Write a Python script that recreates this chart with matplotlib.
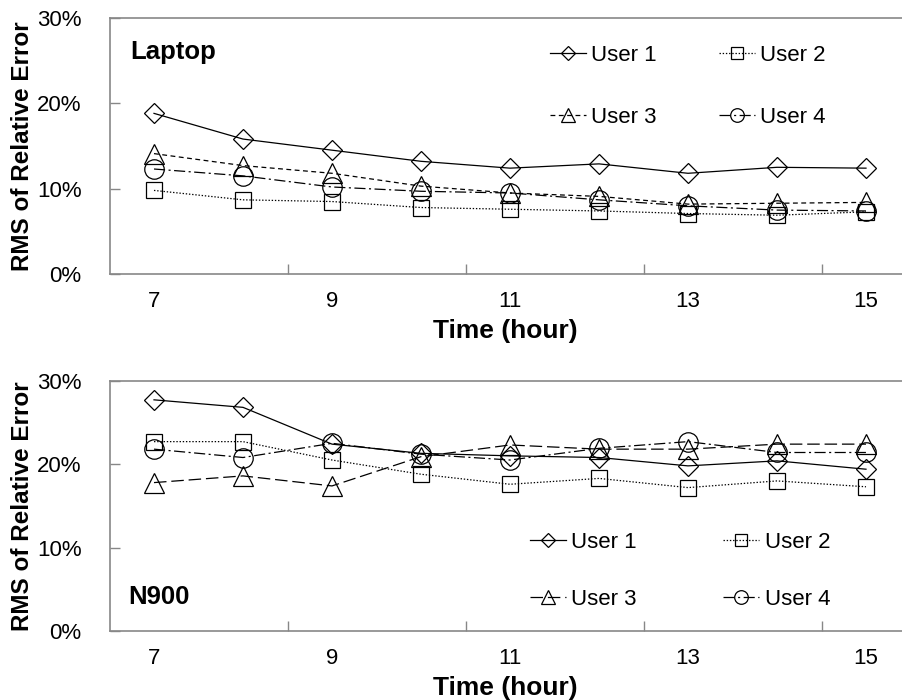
import matplotlib
matplotlib.use("Agg")
import matplotlib.pyplot as plt
from matplotlib.ticker import FixedLocator, FuncFormatter

plt.rcParams['font.family'] = ['Liberation Sans', 'DejaVu Sans']
plt.rcParams['lines.scale_dashes'] = False

hours = [7, 8, 9, 10, 11, 12, 13, 14, 15]
tick_labels = ["7", "9", "11", "13", "15"]
users = ["User 1", "User 2", "User 3", "User 4"]

# Laptop (values in %)
laptop_u1 = [18.8, 15.8, 14.5, 13.2, 12.4, 12.9, 11.8, 12.5, 12.4]
laptop_u2 = [9.8, 8.7, 8.5, 7.8, 7.6, 7.4, 7.1, 6.9, 7.3]
laptop_u3 = [14.1, 12.7, 11.8, 10.3, 9.5, 9.1, 8.2, 8.3, 8.4]
laptop_u4 = [12.3, 11.5, 10.2, 9.7, 9.5, 8.7, 8.0, 7.5, 7.4]

# N900 (values in %)
n900_u1 = [27.7, 26.8, 22.4, 21.3, 21.0, 20.8, 19.8, 20.4, 19.4]
n900_u2 = [22.7, 22.7, 20.5, 18.8, 17.6, 18.3, 17.2, 18.0, 17.3]
n900_u3 = [17.8, 18.6, 17.4, 20.9, 22.3, 21.8, 21.8, 22.4, 22.4]
n900_u4 = [21.8, 20.8, 22.5, 21.2, 20.5, 21.9, 22.7, 21.4, 21.4]

spine_col = "#878787"
W, H = 902, 700
fig = plt.figure(figsize=(W / 100, H / 100), dpi=100)

left = 109.5 / W
ax1 = fig.add_axes([left, (H - 274.3) / H, 1 - left, 256.8 / H])
ax2 = fig.add_axes([left, (H - 631.4) / H, 1 - left, 250.8 / H])

markers = ['D', 's', '^', 'o']
msizes = [10, 12, 15, 14]


def draw(ax, series, dashes, title, leg_anchor, colsp, labsp):
    pos = list(range(len(hours)))
    handles = []
    for vals, m, ms, ls, lab in zip(series, markers, msizes, dashes, users):
        h, = ax.plot(pos, vals, color='black', lw=0.9, linestyle=ls,
                     marker=m, markersize=ms, markerfacecolor='none',
                     markeredgecolor='black', markeredgewidth=0.9, label=lab)
        handles.append(h)
    ax.set_ylim(0, 30)
    ax.set_xlim(-0.5, (W - 109.5) / 89 - 0.5)
    ax.yaxis.set_major_locator(FixedLocator([0, 10, 20, 30]))
    ax.yaxis.set_major_formatter(FuncFormatter(lambda v, p: f"{v:.0f}%"))
    ax.set_xticks(pos[::2])
    ax.set_xticklabels(tick_labels)
    ax.xaxis.set_minor_locator(FixedLocator([1.5, 3.5, 5.5, 7.5]))
    ax.tick_params(axis='x', which='major', length=0, pad=12, labelsize=16)
    ax.tick_params(axis='x', which='minor', direction='in', length=7,
                   color=spine_col, width=1)
    ax.tick_params(axis='y', direction='in', length=7, color=spine_col,
                   width=1, pad=20, labelsize=16)
    for s in ['left', 'bottom', 'top']:
        ax.spines[s].set_color(spine_col)
        ax.spines[s].set_linewidth(1.2)
    ax.spines['right'].set_visible(False)
    ax.set_xlabel("Time (hour)", fontsize=19, fontweight='bold', labelpad=5)
    ax.set_ylabel("RMS of Relative Error", fontsize=17.5, fontweight='bold')
    ax.yaxis.set_label_coords(-0.095, 0.5)
    ax.text(title[1], title[2], title[0], transform=ax.transAxes,
            fontsize=18.5, fontweight='bold', va='center', ha='left')
    order = [handles[0], handles[2], handles[1], handles[3]]
    ax.legend(order, [h.get_label() for h in order], ncol=2,
              loc='upper left', bbox_to_anchor=leg_anchor, frameon=False,
              borderpad=0, borderaxespad=0, fontsize=16, markerscale=0.7,
              handlelength=1.6, handletextpad=0.25, columnspacing=colsp,
              labelspacing=labsp)


draw(ax1, [laptop_u1, laptop_u2, laptop_u3, laptop_u4],
     ['-', (0, (1, 1.3)), (0, (3.5, 2.5)), (0, (8, 2.5, 1.5, 2.5))],
     ("Laptop", 0.026, 0.866), (0.556, 0.893), 2.8, 1.85)
draw(ax2, [n900_u1, n900_u2, n900_u3, n900_u4],
     ['-', (0, (1, 1.3)), (0, (9, 3.5)), (0, (8, 2.5, 1.5, 2.5))],
     ("N900", 0.024, 0.137), (0.5306, 0.398), 3.9, 1.63)

fig.savefig("out.png", dpi=100)
